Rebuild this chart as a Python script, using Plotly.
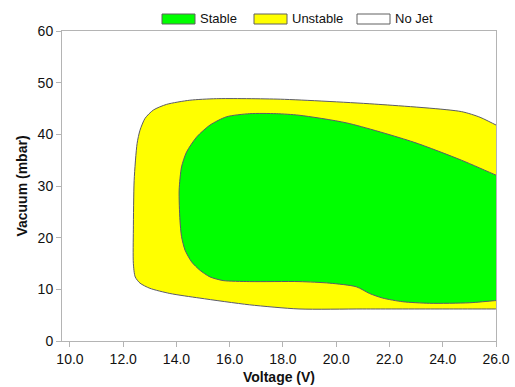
import plotly.graph_objects as go

# Unstable (outer) region boundary: voltage (V) and vacuum (mbar)
unstable_v = [12.38, 12.41, 12.52, 12.63, 12.82, 13.13, 13.63, 14.5, 15.5, 17.9, 21.6, 24.7, 25.4, 26.0, 26.5, 28.0,
              28.0, 26.5, 24.0, 21.0, 18.6, 16.75, 14.88, 13.75, 13.0, 12.63, 12.45, 12.38, 12.38]
unstable_p = [21.5, 31.1, 38.2, 40.8, 43.1, 44.7, 45.8, 46.6, 46.9, 46.8, 45.8, 44.4, 43.3, 41.8, 40.5, 37.0,
              6.2, 6.2, 6.2, 6.2, 6.2, 7.0, 8.3, 9.2, 10.2, 11.2, 12.4, 15.0, 21.5]

# Stable (inner) region boundary
stable_v = [14.1, 14.19, 14.38, 14.76, 15.26, 15.88, 16.75, 17.75, 18.6, 20.4, 22.9, 24.7, 26.0, 26.5, 28.0,
            28.0, 26.5, 25.94, 25.0, 23.5, 22.5, 21.75, 21.25, 20.75, 19.75, 18.6, 16.75, 15.75, 15.26, 14.88,
            14.57, 14.32, 14.19, 14.13, 14.1]
stable_p = [29.2, 33.7, 36.6, 39.5, 41.8, 43.4, 44.0, 44.0, 43.7, 42.2, 38.5, 35.0, 32.1, 31.0, 28.0,
            8.2, 8.0, 7.8, 7.4, 7.3, 7.6, 8.3, 9.2, 10.5, 11.2, 11.5, 11.5, 11.7, 12.4, 13.7,
            15.3, 17.6, 20.2, 23.4, 29.2]

x_ticks = [10, 12, 14, 16, 18, 20, 22, 24, 26]
y_ticks = [0, 10, 20, 30, 40, 50, 60]

legend_names = ["Stable", "Unstable", "No Jet"]
legend_colors = ["#00ff00", "#ffff00", "#ffffff"]

outline = "#5a5a6a"
FONT = "Liberation Sans, Arial, sans-serif"

fig = go.Figure()
fig.add_trace(go.Scatter(x=unstable_v, y=unstable_p, name="Unstable", mode="lines", fill="toself",
                         fillcolor="#ffff00", line=dict(color=outline, width=1, shape="spline", smoothing=0.7),
                         showlegend=False))
fig.add_trace(go.Scatter(x=stable_v, y=stable_p, name="Stable", mode="lines", fill="toself",
                         fillcolor="#00ff00", line=dict(color=outline, width=1, shape="spline", smoothing=0.7),
                         showlegend=False))

# Manual legend (plot area spans x 62..496 px, y 31..341 px)
L, R, T, B = 62, 496, 31, 341
def px_x(p):
    return (p - L) / (R - L)
def px_y(p):
    return (B - p) / (B - T)

box_lefts = [162, 254, 357]
for name, col, bx in zip(legend_names, legend_colors, box_lefts):
    fig.add_shape(type="rect", xref="paper", yref="paper",
                  x0=px_x(bx), x1=px_x(bx + 33), y0=px_y(24), y1=px_y(14),
                  fillcolor=col, line=dict(color="#606060", width=1))
    fig.add_annotation(xref="paper", yref="paper", x=px_x(bx + 36), y=px_y(19), text=name,
                       showarrow=False, xanchor="left", yanchor="middle",
                       font=dict(family=FONT, size=13, color="#111"))

axis_common = dict(showgrid=False, zeroline=False, showline=True, linecolor="#b4b4b4", linewidth=1,
                   mirror=True, ticks="outside", tickcolor="#b4b4b4", ticklen=5, automargin=False,
                   tickfont=dict(family=FONT, size=14, color="#111"))

fig.update_layout(
    width=515, height=387,
    margin=dict(l=L, r=515 - R, t=T, b=387 - B),
    paper_bgcolor="white", plot_bgcolor="white",
    font=dict(family=FONT, size=13, color="#111"),
    xaxis=dict(range=[9.7, 26], tickvals=x_ticks, tickformat=".1f",
               title=dict(text="<b>Voltage (V)</b>", standoff=6, font=dict(size=14)), **axis_common),
    yaxis=dict(range=[0, 60], tickvals=y_ticks,
               title=dict(text="<b>Vacuum (mbar)</b>", standoff=6, font=dict(size=14)), **axis_common),
    showlegend=False,
)
fig.write_html("out.html")
